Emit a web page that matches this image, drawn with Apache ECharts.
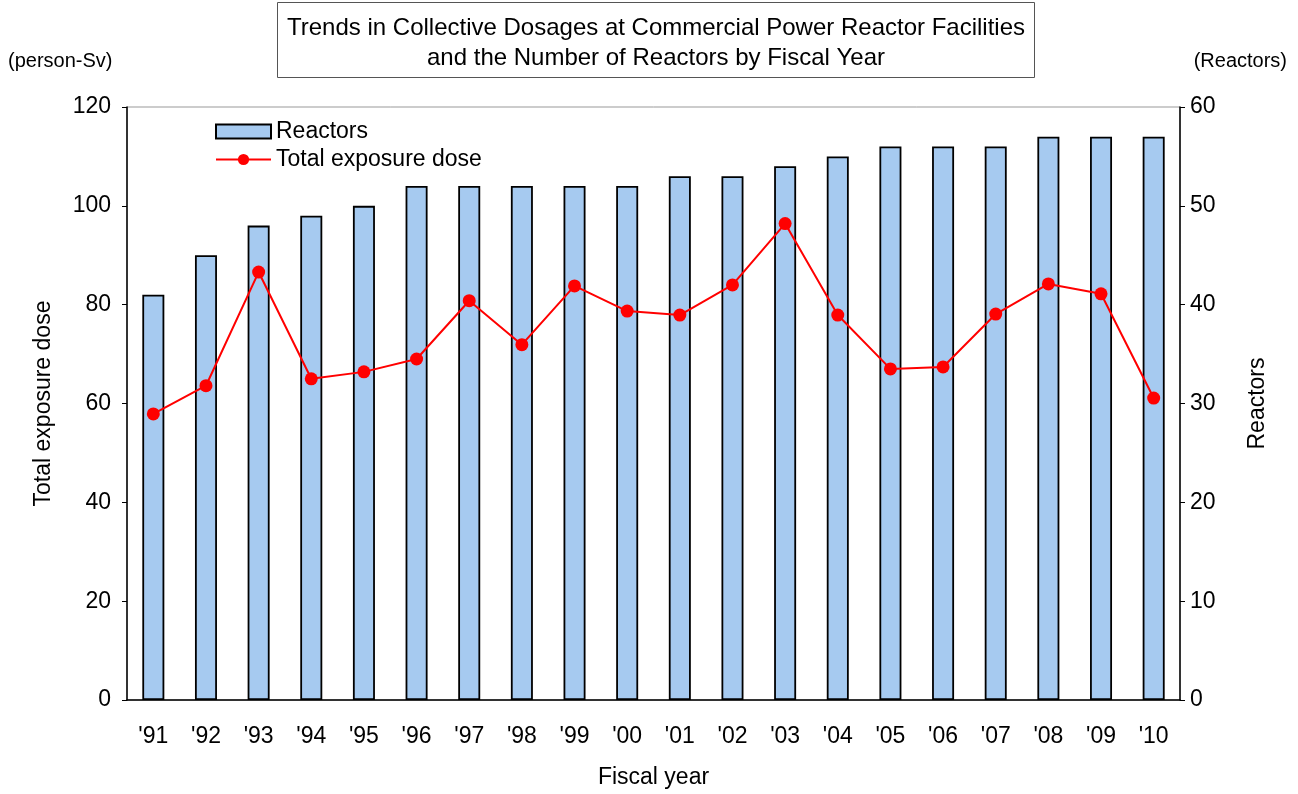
<!DOCTYPE html>
<html>
<head>
<meta charset="utf-8">
<script src="https://cdn.jsdelivr.net/npm/echarts@6/dist/echarts.min.js"></script>
<style>
    html, body { margin: 0; padding: 0; background: #fff; }
    #chart { width: 1298px; height: 794px; }
</style>
</head>
<body>
<div id="chart"></div>
<script>
// fiscal years on the x axis
const years = ["'91", "'92", "'93", "'94", "'95", "'96", "'97", "'98", "'99", "'00",
    "'01", "'02", "'03", "'04", "'05", "'06", "'07", "'08", "'09", "'10"];
// number of reactors (right axis)
const reactors = [41, 45, 48, 49, 50, 52, 52, 52, 52, 52, 53, 53, 54, 55, 56, 56, 56, 57, 57, 57];
// total exposure dose, person-Sv (left axis)
const doses = [57.9, 63.6, 86.6, 65.0, 66.4, 69.0, 80.8, 71.9, 83.8, 78.7,
    77.9, 84.0, 96.4, 77.9, 67.0, 67.4, 78.1, 84.2, 82.2, 61.1];

const font = 'Arial, "Liberation Sans", sans-serif';
const fs = 23;
const chart = echarts.init(document.getElementById('chart'));

chart.setOption({
    animation: false,
    textStyle: { fontFamily: font, color: '#000' },
    title: {
        text: 'Trends in Collective Dosages at Commercial Power Reactor Facilities\nand the Number of Reactors by Fiscal Year',
        left: 651,
        top: 8,
        textAlign: 'center',
        textStyle: { fontFamily: font, fontSize: 24, fontWeight: 'normal', color: '#000', lineHeight: 30, align: 'center' }
    },
    graphic: [
        // title frame
        { type: 'rect', shape: { x: 277.5, y: 2.5, width: 757, height: 75 },
          style: { fill: 'none', stroke: '#555', lineWidth: 1 }, z: -1 },
        { type: 'text', left: 8, top: 51,
          style: { text: '(person-Sv)', font: '20px ' + font, fill: '#000' } },
        { type: 'text', right: 11, top: 51,
          style: { text: '(Reactors)', font: '20px ' + font, fill: '#000' } }
    ],
    legend: {
        orient: 'vertical',
        left: 210,
        top: 115,
        itemWidth: 55,
        itemHeight: 14,
        itemGap: 5,
        textStyle: { fontSize: fs, fontFamily: font, color: '#000' },
        data: [
            { name: 'Reactors', icon: 'rect' },
            { name: 'Total exposure dose' }
        ]
    },
    grid: {
        left: 127, right: 118, top: 107, bottom: 94,
        show: true, borderColor: '#999', borderWidth: 1
    },
    xAxis: {
        type: 'category',
        data: years,
        boundaryGap: true,
        name: 'Fiscal year',
        nameLocation: 'middle',
        nameGap: 66,
        nameTextStyle: { fontSize: fs, fontFamily: font, color: '#000' },
        axisLine: { lineStyle: { color: '#000', width: 1.5 } },
        axisTick: { inside: true, length: 6, lineStyle: { color: '#000' } },
        axisLabel: { fontSize: fs, color: '#000', margin: 25, fontFamily: font }
    },
    yAxis: [
        {
            type: 'value', min: 0, max: 120, interval: 20,
            name: 'Total exposure dose',
            nameLocation: 'middle',
            nameRotate: 90,
            nameGap: 72,
            nameTextStyle: { fontSize: fs, fontFamily: font, color: '#000' },
            axisLine: { show: true, lineStyle: { color: '#000', width: 1.5 } },
            axisTick: { show: true, length: 5, lineStyle: { color: '#000' } },
            axisLabel: { fontSize: fs, color: '#000', margin: 16, fontFamily: font },
            splitLine: { show: false }
        },
        {
            type: 'value', min: 0, max: 60, interval: 10,
            name: 'Reactors',
            nameLocation: 'middle',
            nameRotate: 90,
            nameGap: 66,
            nameTextStyle: { fontSize: fs, fontFamily: font, color: '#000' },
            axisLine: { show: true, lineStyle: { color: '#000', width: 1.5 } },
            axisTick: { show: true, length: 5, lineStyle: { color: '#000' } },
            axisLabel: { fontSize: fs, color: '#000', margin: 10, fontFamily: font },
            splitLine: { show: false }
        }
    ],
    series: [
        {
            name: 'Reactors',
            type: 'bar',
            yAxisIndex: 1,
            data: reactors,
            barWidth: 22,
            itemStyle: { color: '#a6caf0', borderColor: '#000', borderWidth: 1.8 }
        },
        {
            name: 'Total exposure dose',
            type: 'line',
            yAxisIndex: 0,
            data: doses,
            symbol: 'circle',
            symbolSize: 13,
            lineStyle: { color: '#ff0000', width: 2 },
            itemStyle: { color: '#ff0000' }
        }
    ]
});
</script>
</body>
</html>
